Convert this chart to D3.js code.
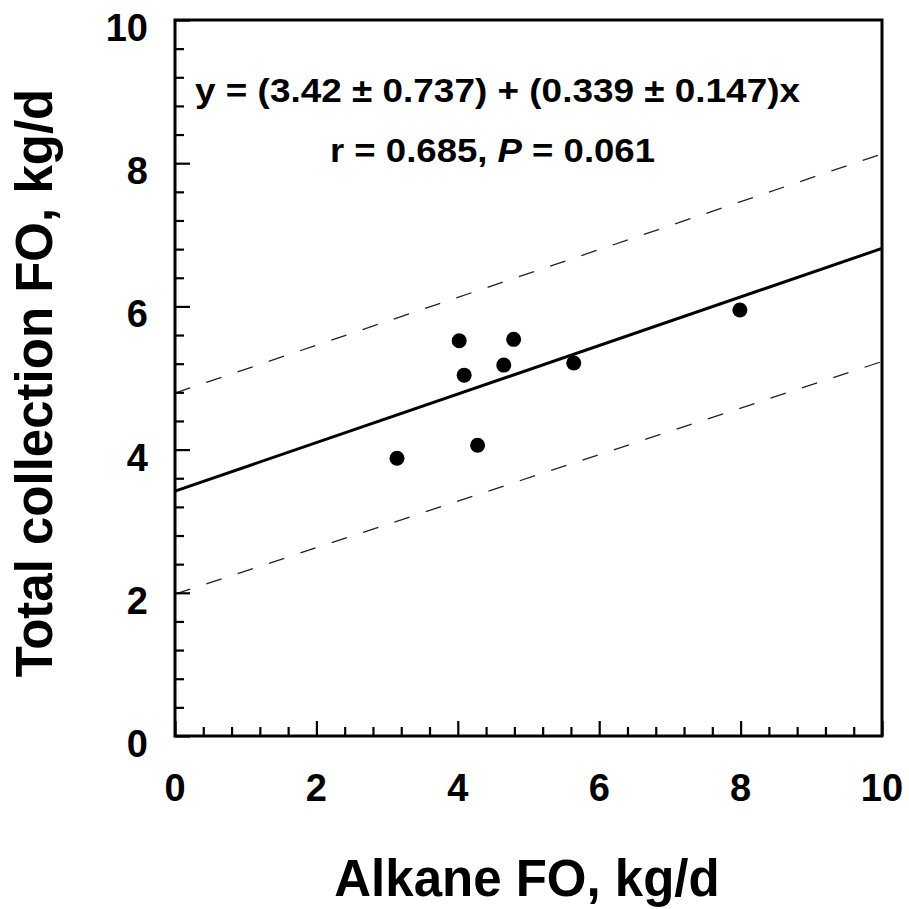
<!DOCTYPE html>
<html>
<head>
<meta charset="utf-8">
<script src="https://cdn.jsdelivr.net/npm/d3@7"></script>
<style>
  body { margin: 0; background: #fff; }
  svg { display: block; }
  text { font-family: "Liberation Sans", Arial, Helvetica, sans-serif; font-weight: bold; fill: #000; }
</style>
</head>
<body>
<svg width="909" height="909"></svg>
<script>
// data
const alkaneFO = [3.14, 4.02, 4.09, 4.28, 4.65, 4.79, 5.64, 7.99];
const totalFO = [3.88, 5.52, 5.04, 4.06, 5.18, 5.54, 5.21, 5.95];
const fitX = [0, 10];
const fitY = [3.42, 6.81];
const upperY = [4.79, 8.13];
const lowerY = [1.98, 5.23];
const tickLabels = [0, 2, 4, 6, 8, 10];

const svg = d3.select("svg");
const plotLeft = 175, plotRight = 882, plotTop = 20, plotBottom = 736;

const x = d3.scaleLinear().domain([0, 10]).range([plotLeft, plotRight]);
const y = d3.scaleLinear().domain([0, 10]).range([plotBottom, plotTop]);

const line = d3.line()
    .x(function(d) { return x(d[0]); })
    .y(function(d) { return y(d[1]); });

// confidence band
[upperY, lowerY].forEach(function(band) {
    svg.append("path")
        .attr("d", line(fitX.map(function(v, i) { return [v, band[i]]; })))
        .attr("fill", "none")
        .attr("stroke", "#222")
        .attr("stroke-width", 1.3)
        .attr("stroke-dasharray", "16,17");
});

// regression line
svg.append("path")
    .attr("d", line(fitX.map(function(v, i) { return [v, fitY[i]]; })))
    .attr("fill", "none")
    .attr("stroke", "#000")
    .attr("stroke-width", 3);

// points
svg.selectAll(".pt")
    .data(alkaneFO.map(function(v, i) { return [v, totalFO[i]]; }))
    .enter().append("circle")
    .attr("class", "pt")
    .attr("cx", function(d) { return x(d[0]); })
    .attr("cy", function(d) { return y(d[1]); })
    .attr("r", 7.5)
    .attr("fill", "#000");

// minor/major ticks every 0.4, inward
const ticks = d3.range(0, 10.001, 0.4).map(function(v) { return Math.round(v * 10) / 10; });
const isMajor = function(v) { return Math.abs(v / 2 - Math.round(v / 2)) < 1e-6; };

const xAxis = d3.axisBottom(x).tickValues(ticks).tickFormat("")
    .tickSizeInner(0).tickSizeOuter(0);
const gx = svg.append("g").attr("transform", "translate(0," + plotBottom + ")").call(xAxis);
gx.selectAll(".tick line")
    .attr("y2", function(d) { return isMajor(d) ? -15 : -9; })
    .attr("stroke-width", 2.2);
gx.select(".domain").remove();

const yAxis = d3.axisLeft(y).tickValues(ticks).tickFormat("")
    .tickSizeInner(0).tickSizeOuter(0);
const gy = svg.append("g").attr("transform", "translate(" + plotLeft + ",0)").call(yAxis);
gy.selectAll(".tick line")
    .attr("x2", function(d) { return isMajor(d) ? 15 : 9; })
    .attr("stroke-width", 2.2);
gy.select(".domain").remove();

// frame
svg.append("rect")
    .attr("x", plotLeft).attr("y", plotTop)
    .attr("width", plotRight - plotLeft).attr("height", plotBottom - plotTop)
    .attr("fill", "none")
    .attr("stroke", "#000")
    .attr("stroke-width", 3);

// tick labels
svg.selectAll(".xl")
    .data(tickLabels)
    .enter().append("text")
    .attr("class", "xl")
    .attr("x", function(d) { return x(d); })
    .attr("y", 801)
    .attr("text-anchor", "middle")
    .attr("font-size", 38)
    .text(function(d) { return d; });

svg.selectAll(".yl")
    .data(tickLabels)
    .enter().append("text")
    .attr("class", "yl")
    .attr("x", 148)
    .attr("y", function(d) { return y(d) + 21; })
    .attr("text-anchor", "end")
    .attr("font-size", 38)
    .text(function(d) { return d; });

// axis titles
svg.append("text")
    .attr("x", 527)
    .attr("y", 896)
    .attr("text-anchor", "middle")
    .attr("font-size", 51)
    .text("Alkane FO, kg/d");

svg.append("text")
    .attr("transform", "translate(52,383) rotate(-90)")
    .attr("text-anchor", "middle")
    .attr("font-size", 51)
    .text("Total collection FO, kg/d");

// equation
svg.append("text")
    .attr("x", 195)
    .attr("y", 102)
    .attr("font-size", 34)
    .attr("textLength", 605)
    .attr("lengthAdjust", "spacingAndGlyphs")
    .text("y = (3.42 \u00b1 0.737) + (0.339 \u00b1 0.147)x");

const stat = svg.append("text")
    .attr("x", 330)
    .attr("y", 162)
    .attr("font-size", 34)
    .attr("textLength", 325)
    .attr("lengthAdjust", "spacingAndGlyphs");
stat.append("tspan").text("r = 0.685, ");
stat.append("tspan").attr("font-style", "italic").text("P");
stat.append("tspan").text(" = 0.061");
</script>
</body>
</html>
